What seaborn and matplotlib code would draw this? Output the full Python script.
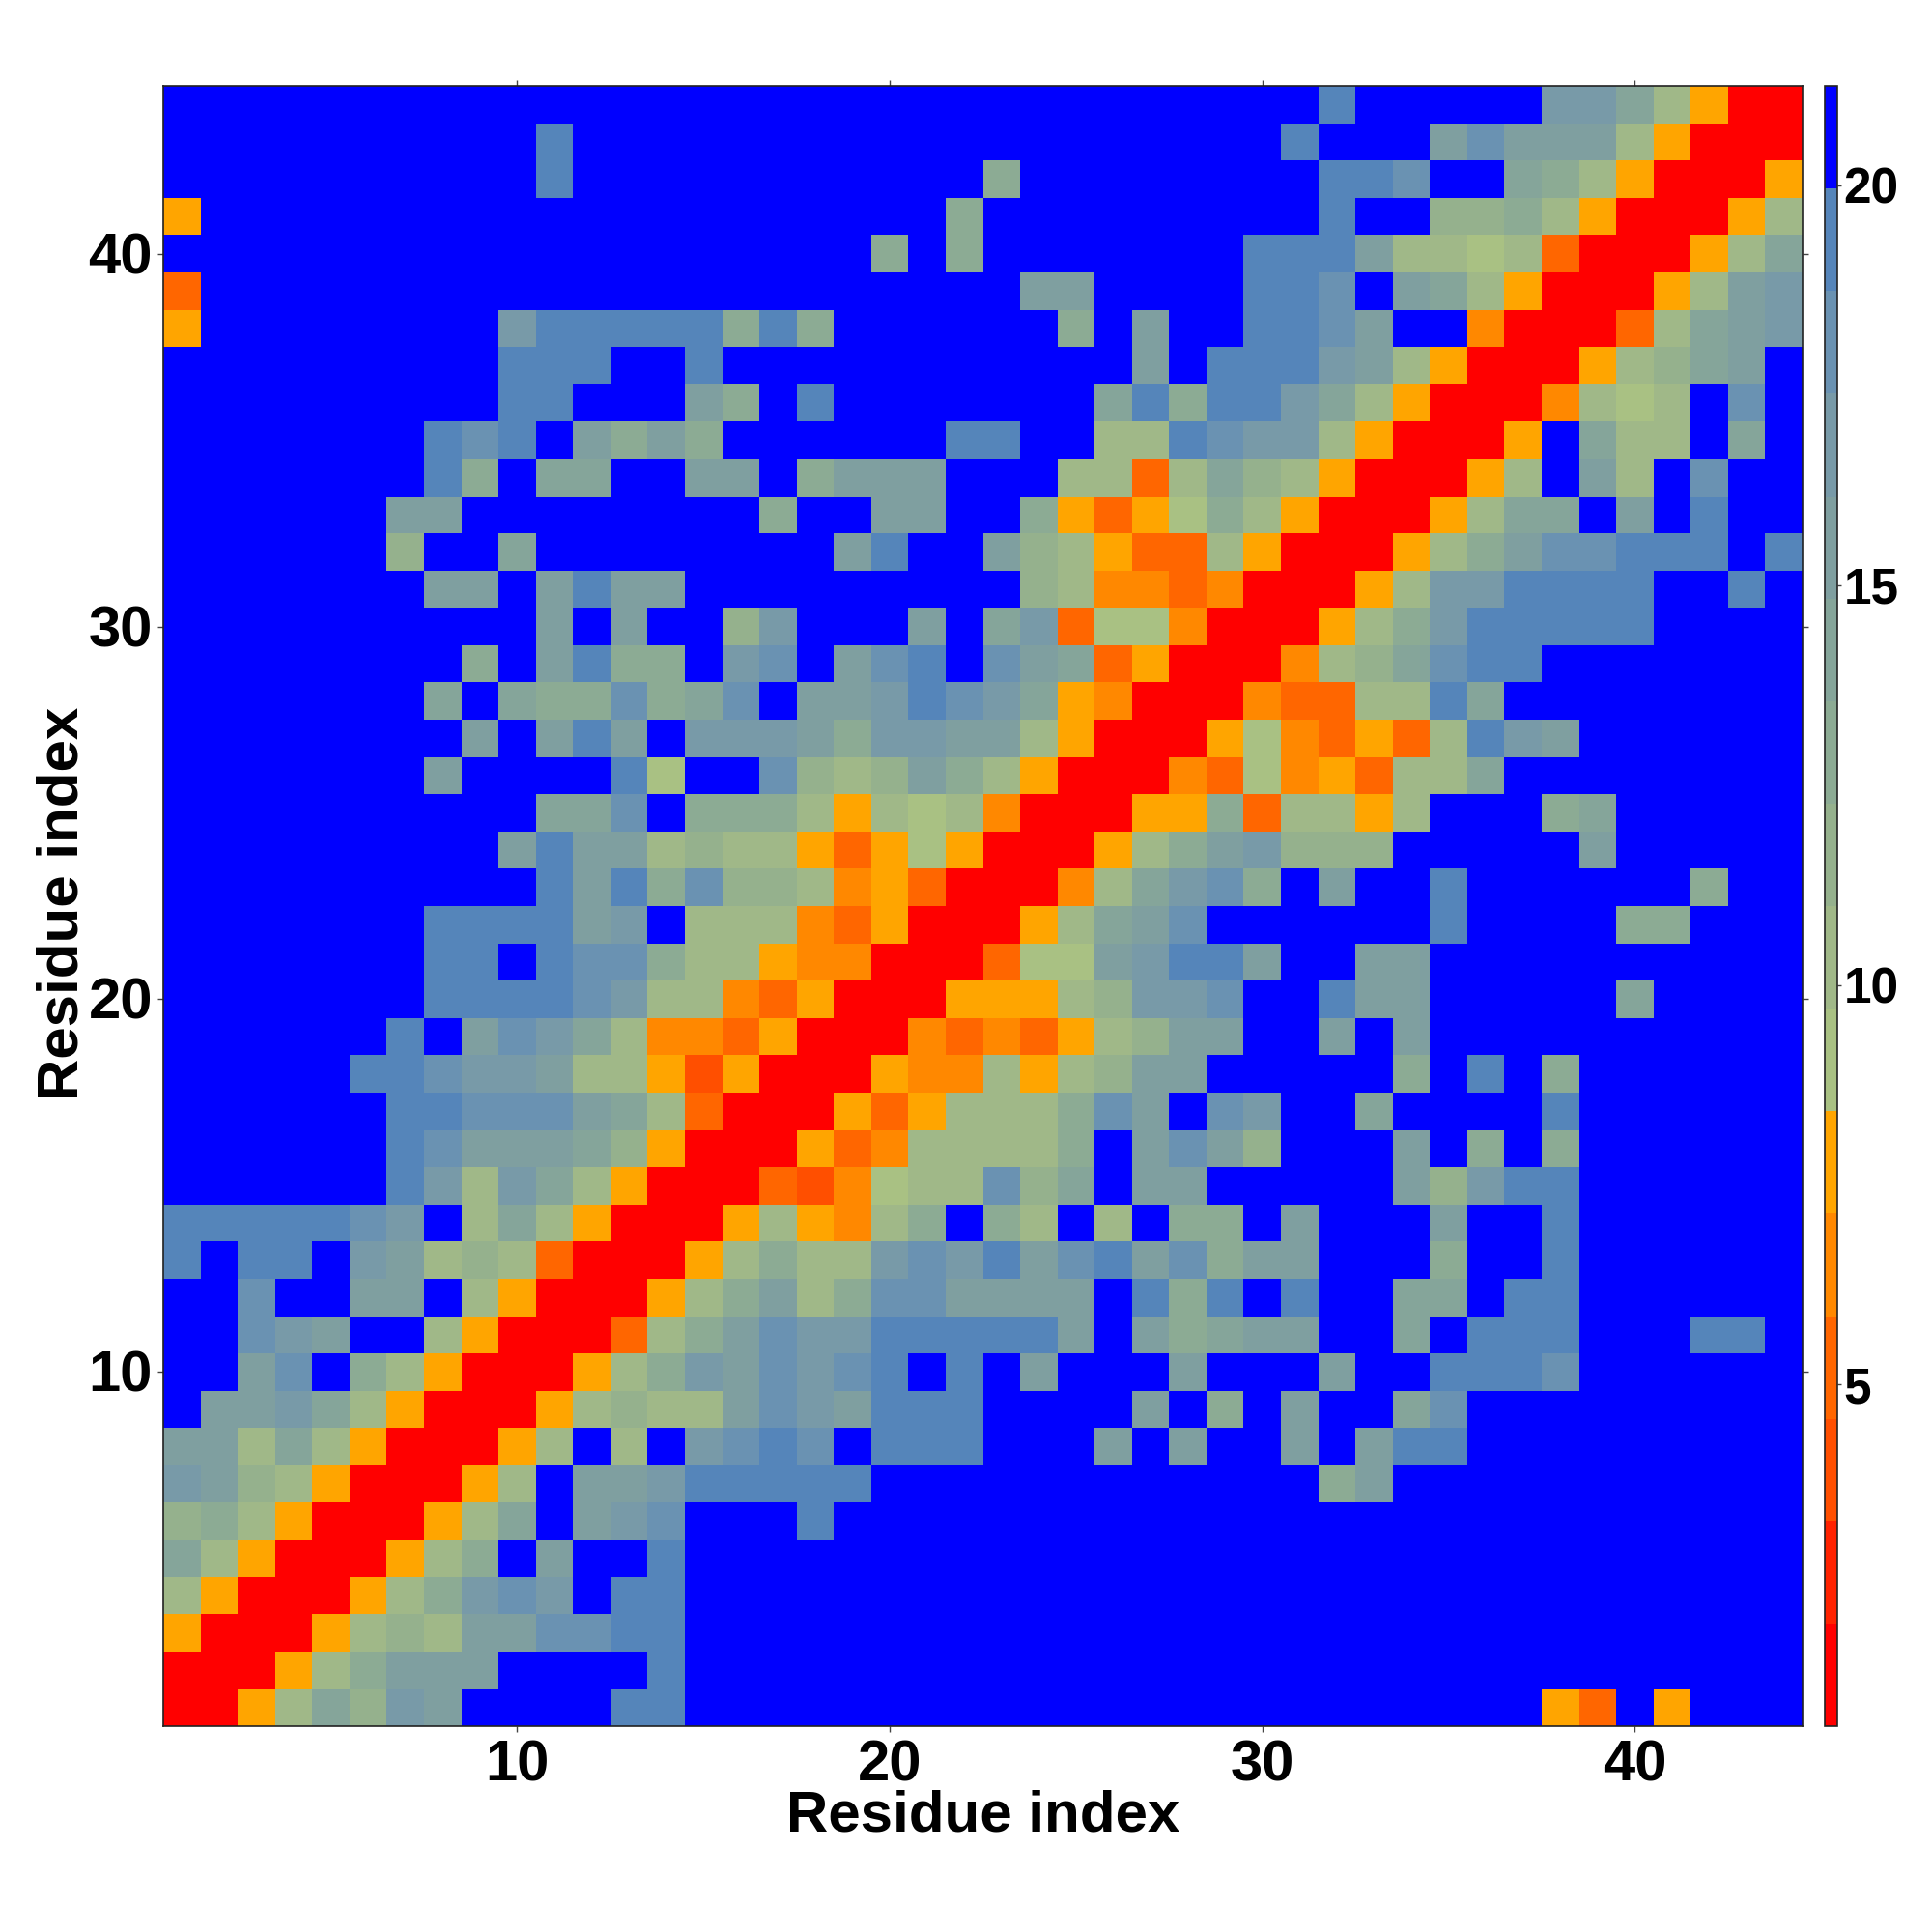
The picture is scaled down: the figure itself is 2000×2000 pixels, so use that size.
import numpy as np
import matplotlib
matplotlib.use('Agg')
import matplotlib.pyplot as plt
import seaborn as sns
from matplotlib.colors import ListedColormap
from matplotlib.transforms import ScaledTranslation

# Contact map levels, top row is residue 44, left column is residue 1.
# 1-9, a-f = colour band counted from the bottom of the colour bar, . = top band (blue)
rows = [
    ".......... .......... .......... .f.....ddb 8611",
    ".......... f......... .......... f...ceccc8 6111",
    ".......... f......... ..a....... .ffe..ba86 1116",
    "6......... .......... .a........ .f..99a861 1168",
    ".......... .........a .a.......f ffc8878411 168b",
    "4......... .......... ...cc....f fe.cb86111 68cd",
    "6........d fffffafa.. ....a.c..f fec..51114 8bcd",
    ".........f ff..f..... ......c.ff fdc8611168 9bc.",
    ".........f f...ca.f.. .....bfaff db86111587 8.e.",
    ".......fef .caca..... .ff..88fed d861116.b8 8.b.",
    ".......fa. bb..cc.acc c...8848b9 8611168.c8 .e..",
    "......cc.. ......a..c c..a6467a8 611168bb.c .f..",
    "......9..b ........cf ..c9864486 11168aceef ff.f",
    ".......cc. cfcc...... ...9855451 1168ddffff ..f.",
    ".......... c.c..9d... c.bd477511 168adfffff ....",
    "........a. cfaa.de.ce f.ecb46111 589beff... ....",
    ".......b.b aaeabe.ccd fedb651115 4488fb.... ....",
    "........c. cfc.dddcad dcc8611167 54648fdc.. ....",
    ".......c.. ..f7..e989 ca86111547 56488b.... ....",
    ".......... bbe.aaa868 78511166a4 8868...ab. ....",
    ".........c fcc8988646 7611168acd 999.....c. ....",
    ".......... fcfae99856 411158bdea .c..f..... .a..",
    ".......fff fcd.888546 11168bce.. ....f....a a...",
    ".......ff. feea886551 11477cdffc ..cc...... ....",
    ".......fff fed8854611 166689dde. .fcc.....b ....",
    "......f.ce db85546111 5454689cc. .c.c...... ....",
    ".....ffedd c886361116 558689cc.. ...a.f.a.. ....",
    "......ffee ecb8411164 6888aec.ed ..b....f.. ....",
    "......fecc cb96111645 8888a.cec9 ...c.a.a.. ....",
    "......fd8d b861114357 88e9b.cc.. ...c9dff.. ....",
    "fffffed.8b 8611168658 a.a8.8.aa. c...c..f.. ....",
    "f.ff.dc898 411168a88d edfcefceac c...a..f.. ....",
    "..e..cc.86 11168ac8ae ecccc.faf. f..bb.ff.. ....",
    "..edc..861 1148aceddf ffffc.cabc c..b.fff.. .ff.",
    "..ce.a8611 168adcedef .f.c...c.. .c..fffe.. ....",
    ".ccdb86111 68988cedcf ff....c.a. c..be..... ....",
    "cc8b861116 8.8.defe.f ff...c.c.. c.cff..... ....",
    "dc98611168 .ccdfffff. .......... .ac....... ....",
    "9a8611168b .cde...f.. .......... .......... ....",
    "b8611168a. c..f...... .......... .......... ....",
    "8611168ade d.ff...... .......... .......... ....",
    "61116898cc eeff...... .......... .......... ....",
    "11168accc. ...f...... .......... .......... ....",
    "1168b9dc.. ..ff...... .......... .......64. 6...",
]

band_codes = "123456789abcdef."
band_colors = ['#ff0000', '#ff2200', '#ff4f00', '#ff6600', '#ff8800', '#ffa500',
               '#a9c183', '#a0b888', '#95b18d', '#8cab94', '#85a59a', '#7f9fa0',
               '#789aa8', '#6a92b2', '#5585ba', '#0000ff']
band_low = 0.73
band_high = 21.24

tick_values = [10, 20, 30, 40]
cbar_ticks = [5, 10, 15, 20]

# Turn the band codes into distances in the middle of each band
band_step = (band_high - band_low) / len(band_codes)
distance = np.array([[band_low + (band_codes.index(c) + 0.5) * band_step
                      for c in row.replace(" ", "")] for row in rows])
n = distance.shape[0]

plt.rcParams['font.family'] = ['Liberation Sans', 'DejaVu Sans']
plt.rcParams['font.weight'] = 'bold'

fig = plt.figure(figsize=(10, 10), dpi=200)
ax = fig.add_axes([169 / 2000, 1 - 1787 / 2000, 1697 / 2000, 1698 / 2000])
cax = fig.add_axes([1889 / 2000, 1 - 1787 / 2000, 13 / 2000, 1698 / 2000])

sns.heatmap(distance, ax=ax, cbar_ax=cax, cmap=ListedColormap(band_colors),
            vmin=band_low, vmax=band_high, cbar_kws={'ticks': cbar_ticks})

# Ticks sit on the cell centres, y runs upward from the bottom row
ax.set_xticks([v - 0.5 for v in tick_values])
ax.set_xticklabels(tick_values, rotation=0, fontsize=21.5, fontweight='bold')
ax.set_yticks([n - v + 0.5 for v in tick_values])
ax.set_yticklabels(tick_values, rotation=0, fontsize=21.5, fontweight='bold', va='center')
ax.tick_params(top=True, right=True, bottom=True, left=True, direction='out',
               length=2.2, width=0.5, color='#444444')
ax.tick_params(axis='x', pad=2.5)
ax.tick_params(axis='y', pad=1.8)

# The y labels sit a little low against their ticks in the original
for label in ax.get_yticklabels():
    label.set_transform(label.get_transform() + ScaledTranslation(0, -5 / 200, fig.dpi_scale_trans))

for side in ax.spines.values():
    side.set_visible(True)
    side.set_linewidth(0.6)
    side.set_color('#222222')

fig.text(1018 / 2000, 1 - 1880 / 2000, 'Residue index', fontsize=21.6, fontweight='bold',
         ha='center', va='center')
fig.text(65 / 2000, 1 - 935 / 2000, 'Residue index', fontsize=21.6, fontweight='bold',
         ha='center', va='center', rotation=90)

cbar = ax.collections[0].colorbar
cbar.set_ticklabels(cbar_ticks, fontsize=18.5, fontweight='bold')
cbar.ax.tick_params(direction='out', length=1.5, width=0.5, color='#444444', pad=0.9)
cbar.outline.set_visible(True)
cbar.outline.set_linewidth(0.6)
cbar.outline.set_edgecolor('#222222')

fig.savefig('out.png', dpi=200)
